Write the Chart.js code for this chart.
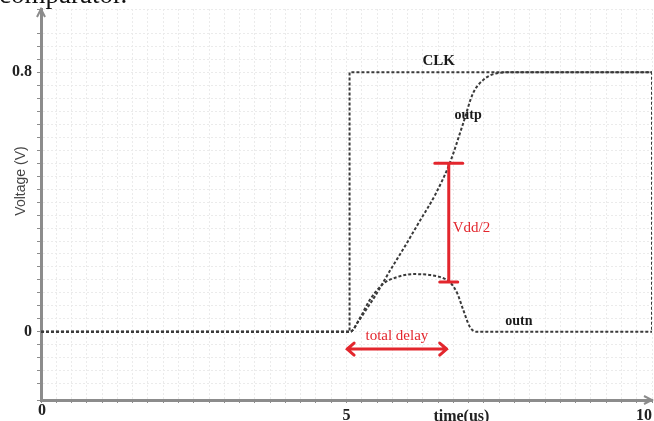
<!DOCTYPE html>
<html>
<head>
<meta charset="utf-8">
<script src="https://cdn.jsdelivr.net/npm/chart.js@4.4.1/dist/chart.umd.min.js"></script>
<style>
  html, body { margin: 0; padding: 0; background: #fff; overflow: hidden; }
  #wrap { position: relative; width: 654px; height: 421px; }
</style>
</head>
<body>
<div id="wrap"><canvas id="c" width="654" height="421"></canvas></div>
<script>
// Comparator transient: clock and the two outputs (time in us, voltage in V)
const clkT  = [0, 5.05, 5.05, 10, 10];
const clkV  = [0, 0, 0.8, 0.8, 0];

const outpT = [0, 5.06, 5.19, 5.32, 5.47, 5.71, 5.96, 6.20, 6.45, 6.69, 6.91, 7.07, 7.23, 7.46, 7.71, 10];
const outpV = [0, 0, 0.031, 0.068, 0.111, 0.188, 0.265, 0.342, 0.422, 0.52, 0.643, 0.735, 0.775, 0.797, 0.8, 0.8];

const outnT = [0, 5.06, 5.22, 5.38, 5.60, 5.83, 6.09, 6.37, 6.58, 6.69, 6.81, 6.91, 7.02, 7.14, 10];
const outnV = [0, 0, 0.043, 0.098, 0.148, 0.169, 0.178, 0.175, 0.166, 0.154, 0.12, 0.068, 0.015, 0, 0];

// tick labels shown on the axes
const xTickLabels = { 5: '5', 10: '10' };
const yTickLabels = { 0: '0', 0.8: '0.8' };

// measurement markers
const vddMarkT = 6.69, vddTopV = 0.52, vddBotV = 0.154;
const delayStartT = 5.01, delayEndT = 6.64, delayV = -0.053;

// text labels placed in data space
const curveLabels = [
  { text: 'CLK',  t: 6.51, v: 0.834 },
  { text: 'outp', t: 6.99, v: 0.668 },
  { text: 'outn', t: 7.82, v: 0.031 }
];

const SERIF = "'Liberation Serif', 'DejaVu Serif', serif";
const INK = '#3a3a3a';
const RED = '#e3262d';
const AXIS = '#8c8c8c';

const toPts = (ts, vs) => ts.map((t, i) => ({ x: t, y: vs[i] }));

function lineSet(label, ts, vs, smooth) {
  return {
    label,
    data: toPts(ts, vs),
    borderColor: INK,
    borderWidth: 2,
    borderDash: [3, 2],
    pointRadius: 0,
    fill: false,
    tension: smooth ? 0.4 : 0,
    cubicInterpolationMode: smooth ? 'monotone' : 'default'
  };
}

function findLabel(map, v) {
  for (const k of Object.keys(map)) {
    if (Math.abs(Number(k) - v) < 1e-6) return map[k];
  }
  return '';
}

const decorations = {
  id: 'decorations',
  afterDraw(chart) {
    const { ctx, chartArea: a, scales: { x, y } } = chart;
    ctx.save();

    // axis arrowheads
    ctx.strokeStyle = AXIS;
    ctx.lineWidth = 2;
    ctx.beginPath();
    ctx.moveTo(a.left - 4, a.top + 8); ctx.lineTo(a.left, a.top); ctx.lineTo(a.left + 4, a.top + 8);
    ctx.moveTo(a.right - 8, a.bottom - 4); ctx.lineTo(a.right, a.bottom); ctx.lineTo(a.right - 8, a.bottom + 4);
    ctx.stroke();

    // origin label
    ctx.fillStyle = '#222';
    ctx.font = "bold 16px " + SERIF;
    ctx.textAlign = 'center';
    ctx.textBaseline = 'top';
    ctx.fillText('0', x.getPixelForValue(0) + 1, a.bottom + 3);

    // curve names
    ctx.fillStyle = '#1a1a1a';
    ctx.textBaseline = 'middle';
    curveLabels.forEach(l => {
      ctx.font = (l.text === 'CLK' ? "bold 15px " : "bold 14px ") + SERIF;
      ctx.fillText(l.text, x.getPixelForValue(l.t), y.getPixelForValue(l.v));
    });

    // Vdd/2 marker
    const mx = x.getPixelForValue(vddMarkT);
    const my1 = y.getPixelForValue(vddTopV);
    const my2 = y.getPixelForValue(vddBotV);
    ctx.strokeStyle = RED;
    ctx.lineWidth = 3;
    ctx.lineCap = 'round';
    ctx.beginPath();
    ctx.moveTo(mx - 1, my1); ctx.lineTo(mx - 1, my2);
    ctx.moveTo(mx - 15, my1); ctx.lineTo(mx + 13, my1);
    ctx.moveTo(mx - 10, my2); ctx.lineTo(mx + 8, my2);
    ctx.stroke();
    ctx.fillStyle = RED;
    ctx.font = "15px " + SERIF;
    ctx.textAlign = 'left';
    ctx.fillText('Vdd/2', mx + 3, y.getPixelForValue(0.32));

    // total delay arrow
    const ax1 = x.getPixelForValue(delayStartT);
    const ax2 = x.getPixelForValue(delayEndT);
    const ay = y.getPixelForValue(delayV);
    ctx.beginPath();
    ctx.moveTo(ax1, ay); ctx.lineTo(ax2, ay);
    ctx.moveTo(ax1 + 7, ay - 6); ctx.lineTo(ax1, ay); ctx.lineTo(ax1 + 7, ay + 6);
    ctx.moveTo(ax2 - 7, ay - 6); ctx.lineTo(ax2, ay); ctx.lineTo(ax2 - 7, ay + 6);
    ctx.stroke();
    ctx.textAlign = 'center';
    ctx.font = "15px " + SERIF;
    ctx.fillText('total delay', (ax1 + ax2) / 2, ay - 13);

    // axis titles
    ctx.fillStyle = '#222';
    ctx.font = "bold 16px " + SERIF;
    ctx.textBaseline = 'alphabetic';
    ctx.fillText('time(us)', x.getPixelForValue(6.88), 421);

    ctx.save();
    ctx.translate(21, 181);
    ctx.rotate(-Math.PI / 2);
    ctx.fillStyle = '#444';
    ctx.font = "14px 'Liberation Sans', Arial, sans-serif";
    ctx.textBaseline = 'middle';
    ctx.fillText('Voltage (V)', 0, 0);
    ctx.restore();

    // caption line running in from above
    ctx.fillStyle = '#111';
    ctx.font = "27px " + SERIF;
    ctx.textAlign = 'left';
    ctx.textBaseline = 'alphabetic';
    ctx.fillText('comparator.', -1, 3);

    ctx.restore();
  }
};

new Chart(document.getElementById('c'), {
  type: 'line',
  data: {
    datasets: [
      lineSet('CLK', clkT, clkV, false),
      lineSet('outp', outpT, outpV, true),
      lineSet('outn', outnT, outnV, true)
    ]
  },
  options: {
    responsive: false,
    animation: false,
    events: [],
    layout: { padding: { top: 9, right: 2, left: 0, bottom: 0 } },
    plugins: { legend: { display: false }, tooltip: { enabled: false } },
    scales: {
      x: {
        type: 'linear',
        min: 0,
        max: 10,
        afterFit(s) { s.height = 21; s.paddingLeft = 0; s.paddingRight = 0; },
        grid: { color: '#ebebeb', lineWidth: 1, tickLength: 3, tickColor: AXIS, tickWidth: 1 },
        border: { display: true, color: AXIS, width: 3, dash: [2, 2] },
        ticks: {
          stepSize: 0.25,
          autoSkip: false,
          maxRotation: 0,
          align: 'inner',
          padding: 3,
          color: '#222',
          font: { family: SERIF, size: 16, weight: 'bold' },
          callback: v => findLabel(xTickLabels, v)
        }
      },
      y: {
        type: 'linear',
        min: -0.21,
        max: 0.995,
        afterFit(s) { s.width = 41; s.paddingTop = 0; s.paddingBottom = 0; },
        grid: { color: '#ebebeb', lineWidth: 1, tickLength: 4, tickColor: AXIS, tickWidth: 1 },
        border: { display: true, color: AXIS, width: 3, dash: [2, 2] },
        ticks: {
          stepSize: 0.04,
          autoSkip: false,
          padding: 5,
          color: '#222',
          font: { family: SERIF, size: 16, weight: 'bold' },
          callback: v => findLabel(yTickLabels, v)
        }
      }
    }
  },
  plugins: [decorations]
});
</script>
</body>
</html>
